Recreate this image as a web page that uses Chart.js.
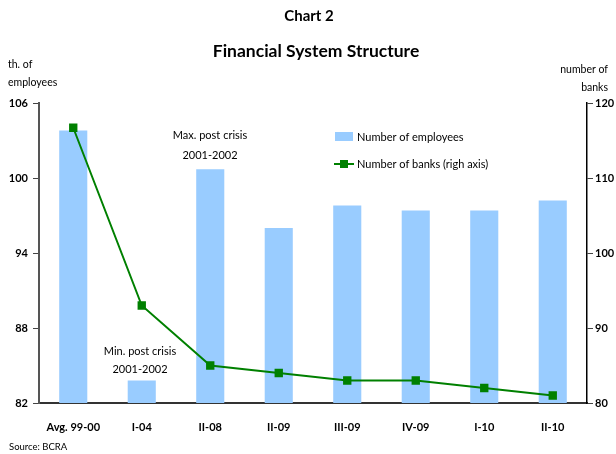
<!DOCTYPE html>
<html>
<head>
<meta charset="utf-8">
<script src="https://cdn.jsdelivr.net/npm/chart.js@4"></script>
<style>
  html, body { margin: 0; padding: 0; background: #fff; }
  #wrap { position: relative; width: 616px; height: 454px; }
</style>
</head>
<body>
<div id="wrap"><canvas id="structureChart" width="616" height="454"></canvas></div>
<script>
// Financial system structure: employees (bars, left) and banks (line, right)
const categories = ['Avg. 99-00', 'I-04', 'II-08', 'II-09', 'III-09', 'IV-09', 'I-10', 'II-10'];
const employees = [103.8, 83.8, 100.7, 96.0, 97.8, 97.4, 97.4, 98.2];
const banks = [116.7, 93, 85, 84, 83, 83, 82, 81];
const leftTicks = [82, 88, 94, 100, 106];
const rightTicks = [80, 90, 100, 110, 120];

const FONT = "Lato, 'Open Sans', sans-serif";
const BAR_BLUE = '#99ccff';
const LINE_GREEN = '#008000';

// Titles, axis captions, notes and legend drawn straight onto the canvas
const decorations = {
    id: 'decorations',
    afterDraw(chart) {
        const ctx = chart.ctx;
        ctx.save();
        ctx.fillStyle = '#000';
        ctx.textBaseline = 'middle';

        ctx.textAlign = 'center';
        ctx.font = 'bold 15px ' + FONT;
        ctx.fillText('Chart 2', 309, 16);
        ctx.font = 'bold 17.5px ' + FONT;
        ctx.fillText('Financial System Structure', 316, 51);

        ctx.font = '10.5px ' + FONT;
        ctx.textAlign = 'left';
        ctx.fillText('th. of', 8, 65);
        ctx.fillText('employees', 8, 83);
        ctx.textAlign = 'right';
        ctx.fillText('number of', 608, 70);
        ctx.fillText('banks', 608, 88);

        ctx.font = '11px ' + FONT;
        ctx.textAlign = 'center';
        ctx.fillText('Max. post crisis', 210, 135);
        ctx.fillText('2001-2002', 210, 155);
        ctx.fillText('Min. post crisis', 140, 351);
        ctx.fillText('2001-2002', 140, 369);

        // legend
        ctx.fillStyle = BAR_BLUE;
        ctx.fillRect(335, 132, 18, 9);
        ctx.strokeStyle = LINE_GREEN;
        ctx.lineWidth = 2;
        ctx.beginPath();
        ctx.moveTo(334, 164);
        ctx.lineTo(354, 164);
        ctx.stroke();
        ctx.fillStyle = LINE_GREEN;
        ctx.fillRect(340, 160, 8, 8);
        ctx.fillStyle = '#000';
        ctx.textAlign = 'left';
        ctx.fillText('Number of employees', 357, 137);
        ctx.fillText('Number of banks (righ axis)', 357, 164);

        ctx.font = '9.5px ' + FONT;
        ctx.fillText('Source: BCRA', 9, 447);
        ctx.restore();
    }
};

new Chart(document.getElementById('structureChart'), {
    data: {
        labels: categories,
        datasets: [
            {
                type: 'line',
                label: 'Number of banks (righ axis)',
                data: banks,
                yAxisID: 'yRight',
                borderColor: LINE_GREEN,
                backgroundColor: LINE_GREEN,
                borderWidth: 2,
                pointStyle: 'rect',
                pointRadius: 4.5,
                pointHoverRadius: 4.5,
                tension: 0,
                order: 0
            },
            {
                type: 'bar',
                label: 'Number of employees',
                data: employees,
                yAxisID: 'yLeft',
                backgroundColor: BAR_BLUE,
                categoryPercentage: 1,
                barPercentage: 0.41,
                order: 1
            }
        ]
    },
    options: {
        responsive: false,
        animation: false,
        layout: { padding: { top: 103, left: 0, right: 0, bottom: 0 } },
        plugins: {
            legend: { display: false },
            title: { display: false },
            tooltip: { enabled: false }
        },
        scales: {
            x: {
                grid: { display: false },
                border: { color: '#333', width: 2 },
                ticks: {
                    color: '#000',
                    padding: 10,
                    font: { family: FONT, size: 11, weight: 'bold' }
                },
                afterFit(scale) { scale.height = 51; }
            },
            yLeft: {
                position: 'left',
                min: 82,
                max: 106,
                afterBuildTicks(scale) { scale.ticks = leftTicks.map(v => ({ value: v })); },
                grid: { drawOnChartArea: false, tickLength: 6, color: '#444' },
                border: { color: '#555', width: 2 },
                ticks: {
                    color: '#000',
                    padding: 5,
                    font: { family: FONT, size: 11, weight: 'bold' }
                },
                afterFit(scale) { scale.width = 39; }
            },
            yRight: {
                position: 'right',
                min: 80,
                max: 120,
                afterBuildTicks(scale) { scale.ticks = rightTicks.map(v => ({ value: v })); },
                grid: { drawOnChartArea: false, tickLength: 6, color: '#444' },
                border: { color: '#000', width: 1.5 },
                ticks: {
                    color: '#000',
                    padding: 2,
                    font: { family: FONT, size: 11, weight: 'bold' }
                },
                afterFit(scale) { scale.width = 29; }
            }
        }
    },
    plugins: [decorations]
});
</script>
</body>
</html>
